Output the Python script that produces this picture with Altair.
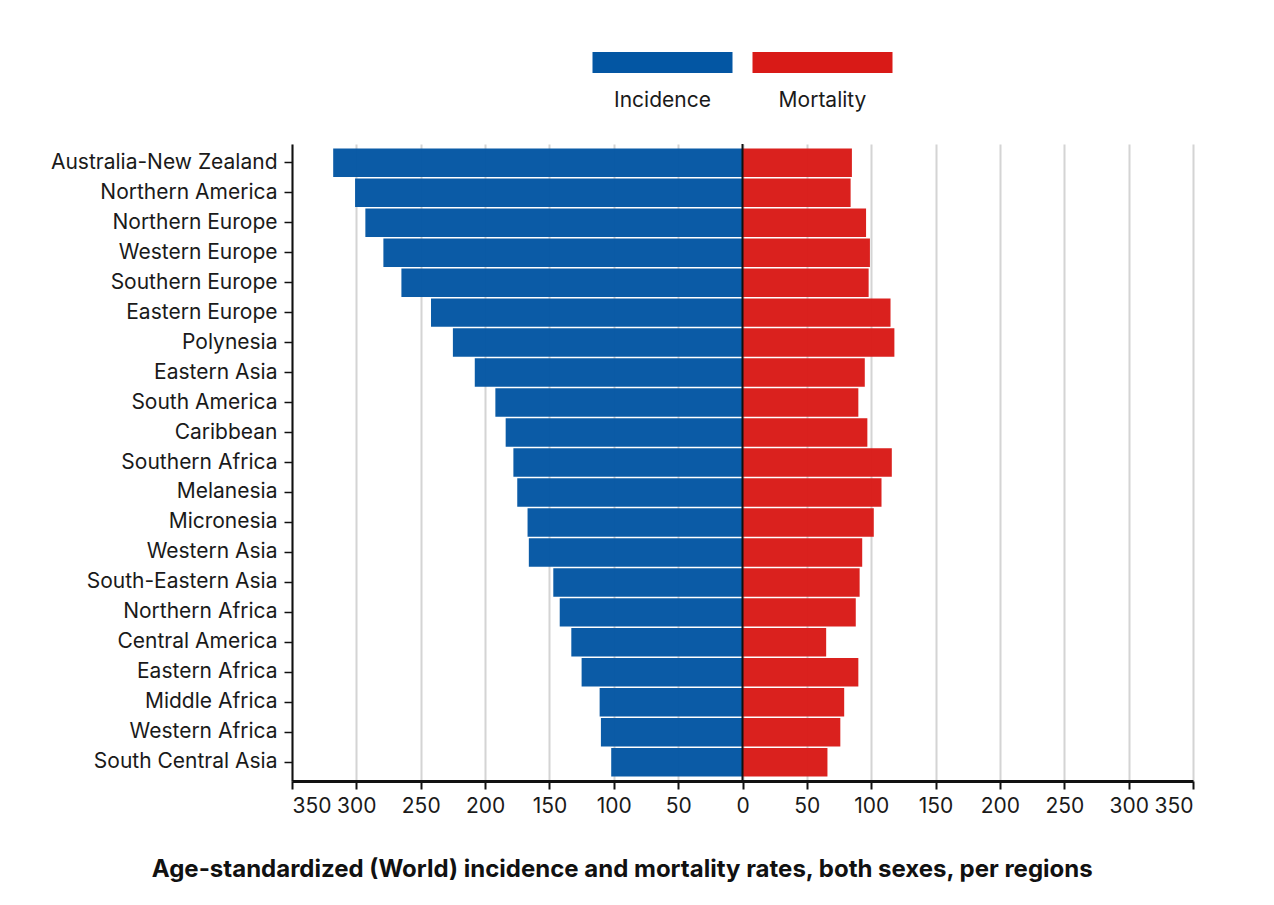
import altair as alt
import pandas as pd

regions = [
    "Australia-New Zealand", "Northern America", "Northern Europe", "Western Europe",
    "Southern Europe", "Eastern Europe", "Polynesia", "Eastern Asia", "South America",
    "Caribbean", "Southern Africa", "Melanesia", "Micronesia", "Western Asia",
    "South-Eastern Asia", "Northern Africa", "Central America", "Eastern Africa",
    "Middle Africa", "Western Africa", "South Central Asia",
]
incidence = [318, 301, 293, 279, 265, 242, 225, 208, 192, 184, 178, 175, 167, 166,
             147, 142, 133, 125, 111, 110, 102]
mortality = [85, 84, 96, 99, 98, 115, 118, 95, 90, 97, 116, 108, 102, 93,
             91, 88, 65, 90, 79, 76, 66]
series_names = ["Incidence", "Mortality"]
series_colors = ["#0356a3", "#d91a17"]
tick_values = list(range(-350, 351, 50))

rows = []
for r, i, m in zip(regions, incidence, mortality):
    rows.append({"region": r, "series": "Incidence", "rate": i})
    rows.append({"region": r, "series": "Mortality", "rate": m})
df = pd.DataFrame(rows)
legend_df = pd.DataFrame({"series": series_names})

FONT = "Inter"
FS = 21
PLOT_W = 901
color_scale = alt.Scale(domain=series_names, range=series_colors)

bars = alt.Chart(df).transform_calculate(
    signed="datum.series === 'Incidence' ? -datum.rate : datum.rate"
).mark_bar(opacity=0.97).encode(
    x=alt.X("signed:Q", scale=alt.Scale(domain=[-350, 350], nice=False),
            axis=alt.Axis(values=tick_values, labelExpr="abs(datum.value)", title=None,
                          grid=True, gridColor="#d4d4d4", gridWidth=2,
                          domainColor="#111", domainWidth=3,
                          tickColor="#111", tickWidth=2, tickSize=8,
                          labelFontSize=FS, labelColor="#1a1a1a", labelFont=FONT,
                          labelPadding=6)),
    y=alt.Y("region:N", sort=regions,
            scale=alt.Scale(paddingInner=0.05, paddingOuter=0.15),
            axis=alt.Axis(title=None, domainColor="#111", domainWidth=2,
                          tickColor="#111", tickWidth=1.5, tickSize=8,
                          labelFontSize=FS, labelColor="#1a1a1a", labelFont=FONT,
                          labelPadding=7, labelLimit=500)),
    color=alt.Color("series:N", scale=color_scale, legend=None),
)

zero = alt.Chart(pd.DataFrame({"z": [0]})).mark_rule(color="#111", strokeWidth=2).encode(
    x=alt.X("z:Q")
)

main = alt.layer(bars, zero).properties(width=PLOT_W, height=637)

# legend: two swatches of 140px with a 20px gap, centred on the zero line
leg_x = alt.X("series:N", sort=series_names,
              scale=alt.Scale(domain=series_names, paddingInner=0.125, paddingOuter=0,
                              range=[PLOT_W / 2 - 150, PLOT_W / 2 + 150]),
              axis=None)
leg_rect = alt.Chart(legend_df).mark_rect().encode(
    x=leg_x,
    color=alt.Color("series:N", scale=color_scale, legend=None),
)
leg_text = alt.Chart(legend_df).mark_text(
    dy=38, fontSize=FS, font=FONT, color="#1a1a1a", baseline="middle"
).encode(x=leg_x, text="series:N")
legend = alt.layer(leg_rect, leg_text).properties(width=PLOT_W, height=21)

chart = alt.vconcat(legend, main, spacing=32).properties(
    padding={"left": 42, "top": 44, "right": 10, "bottom": 10},
    title=alt.TitleParams(
        "Age-standardized (World) incidence and mortality rates, both sexes, per regions",
        orient="bottom", anchor="middle", fontSize=24, font=FONT, fontWeight="bold",
        color="#111", offset=42,
    ),
).configure(background="white").configure_view(stroke=None)

chart.save("out.html", embed_options={"renderer": "svg", "actions": False})
